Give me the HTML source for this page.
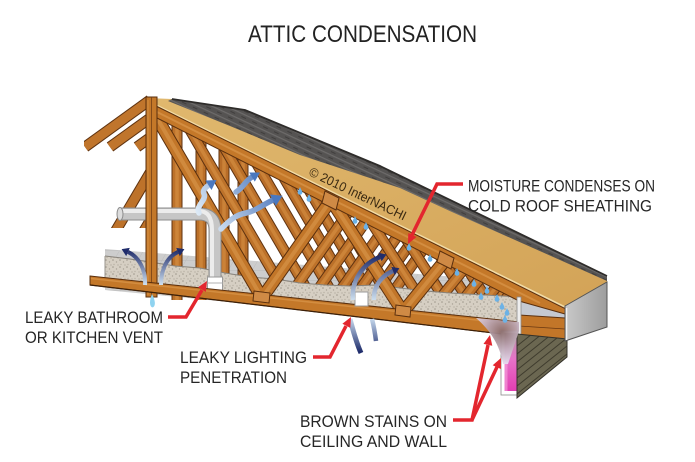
<!DOCTYPE html>
<html><head><meta charset="utf-8"><title>Attic Condensation</title>
<style>
html,body{margin:0;padding:0;background:#fff;width:695px;height:462px;overflow:hidden}
svg{display:block}
.lb{font-family:"Liberation Sans","DejaVu Sans",sans-serif;font-size:17px;fill:#262626}
</style></head><body>
<svg width="695" height="462" viewBox="0 0 695 462" xmlns="http://www.w3.org/2000/svg">
<defs>
<pattern id="ins" width="7" height="7" patternUnits="userSpaceOnUse">
<rect width="7" height="7" fill="#d6cfc3"/>
<circle cx="1" cy="1" r=".8" fill="#9f988c"/>
<circle cx="4.5" cy="3" r=".7" fill="#aaa397"/>
<circle cx="2" cy="5.5" r=".7" fill="#b8b0a3"/>
<circle cx="6" cy="6" r=".5" fill="#8f887d"/>
</pattern>
<pattern id="ceil" width="24" height="10" patternUnits="userSpaceOnUse" patternTransform="skewX(-30)">
<rect width="24" height="10" fill="#cdcdcd"/>
<path d="M0,0H24M0,0V10" stroke="#bcbcbc" stroke-width="1"/>
</pattern>
<pattern id="shg" width="12" height="6" patternUnits="userSpaceOnUse" patternTransform="rotate(25)">
<rect width="12" height="6" fill="#555352"/>
<rect width="12" height="1.2" fill="#6d6b6a"/>
<rect x="4" y="3" width="5" height="1" fill="#403e3d"/>
</pattern>
<linearGradient id="sh" x1="0" y1="0" x2="1" y2="1">
<stop offset="0" stop-color="#e0b86e"/><stop offset="1" stop-color="#d3a357"/>
</linearGradient>
<linearGradient id="pk" x1="0" y1="0" x2="0" y2="1">
<stop offset="0" stop-color="#b49aa4"/><stop offset="0.45" stop-color="#e772c8"/><stop offset="1" stop-color="#e23db2"/>
</linearGradient>
<radialGradient id="stain" cx="502" cy="332" r="32" gradientUnits="userSpaceOnUse">
<stop offset="0" stop-color="#8c6e6e"/><stop offset="0.55" stop-color="#c2aebc"/><stop offset="1" stop-color="#e6dcef"/>
</radialGradient>
<linearGradient id="fas" x1="0" y1="0" x2="1" y2="0">
<stop offset="0" stop-color="#c9c9c9"/><stop offset="1" stop-color="#9d9d9d"/>
</linearGradient>
<linearGradient id="gA1" gradientUnits="userSpaceOnUse" x1="0" y1="286" x2="0" y2="250"><stop offset="0" stop-color="#d4e6f5"/><stop offset="1" stop-color="#1f2c6b"/></linearGradient>
<linearGradient id="gC" gradientUnits="userSpaceOnUse" x1="0" y1="302" x2="0" y2="256"><stop offset="0" stop-color="#d4e6f5"/><stop offset="1" stop-color="#1f2c6b"/></linearGradient>
<linearGradient id="gL" gradientUnits="userSpaceOnUse" x1="0" y1="318" x2="0" y2="352"><stop offset="0" stop-color="#c9dcf0"/><stop offset="1" stop-color="#1f2c6b"/></linearGradient>
<linearGradient id="gB" gradientUnits="userSpaceOnUse" x1="200" y1="230" x2="280" y2="180"><stop offset="0" stop-color="#e8f3fb"/><stop offset="1" stop-color="#4470b8"/></linearGradient>
<g id="webs">
<line x1="157" y1="118" x2="262" y2="298"/>
<line x1="262" y1="298" x2="331" y2="200"/>
<line x1="331" y1="200" x2="403" y2="312"/>
<line x1="403" y1="312" x2="447" y2="258"/>
</g>
<g id="truss"><use href="#webs"/><line x1="151" y1="100" x2="151" y2="300"/></g>
<path id="drop" d="M0,-4 C-1,-1.5 -2.4,0 -2.4,1.4 A2.4,2.4 0 0 0 2.4,1.4 C2.4,0 1,-1.5 0,-4Z"/>
<clipPath id="attic"><polygon points="152,100 519,284 519,340 152,340"/></clipPath>
<clipPath id="lc"><rect x="84" y="90" width="64" height="210"/></clipPath>
<clipPath id="lc2"><rect x="84" y="90" width="64" height="138"/></clipPath>
<clipPath id="sid"><polygon points="517,334 567,339 567,357 517,398"/></clipPath>
</defs>

<text x="248" y="42" font-family="Liberation Sans, DejaVu Sans, sans-serif" font-size="24" fill="#222" textLength="229" lengthAdjust="spacingAndGlyphs">ATTIC CONDENSATION</text>

<polygon points="105,249 519,282 519,330 105,290" fill="url(#ceil)"/>

<g clip-path="url(#attic)" fill="none">
<g transform="translate(127,0)"><use href="#webs" stroke="#5e3210" stroke-width="11"/><use href="#webs" stroke="#b56b27" stroke-width="9"/><use href="#webs" stroke="#c88036" stroke-width="3.5"/></g>
<g transform="translate(110,0)"><use href="#webs" stroke="#5e3210" stroke-width="11"/><use href="#webs" stroke="#b56b27" stroke-width="9"/><use href="#webs" stroke="#c88036" stroke-width="3.5"/></g>
<g transform="translate(92,0)"><use href="#truss" stroke="#5e3210" stroke-width="11"/><use href="#truss" stroke="#b86d28" stroke-width="9"/><use href="#truss" stroke="#ca8238" stroke-width="3.5"/></g>
<g transform="translate(73,0)"><use href="#truss" stroke="#5e3210" stroke-width="11"/><use href="#truss" stroke="#b86d28" stroke-width="9"/><use href="#truss" stroke="#ca8238" stroke-width="3.5"/></g>
<g transform="translate(50,0)"><use href="#truss" stroke="#5e3210" stroke-width="11"/><use href="#truss" stroke="#bb7029" stroke-width="9"/><use href="#truss" stroke="#cc8439" stroke-width="3.5"/></g>
<g transform="translate(26,0)"><use href="#truss" stroke="#5e3210" stroke-width="11"/><use href="#truss" stroke="#bd722a" stroke-width="9"/><use href="#truss" stroke="#cd853a" stroke-width="3.5"/></g>
</g>

<g clip-path="url(#lc)" fill="none">
<g stroke="#5e3210" stroke-width="11">
<line x1="202" y1="100" x2="137" y2="147"/><line x1="175" y1="100" x2="110" y2="147"/><line x1="150" y1="100" x2="85" y2="147"/>
</g>
<g stroke="#c0752c" stroke-width="9">
<line x1="202" y1="100" x2="137" y2="147"/><line x1="175" y1="100" x2="110" y2="147"/><line x1="150" y1="100" x2="85" y2="147"/>
</g>
</g>
<g clip-path="url(#lc2)" fill="none">
<line x1="170" y1="139" x2="115" y2="232" stroke="#5e3210" stroke-width="11"/>
<line x1="170" y1="139" x2="115" y2="232" stroke="#bd722a" stroke-width="9"/>
<line x1="180" y1="170" x2="141" y2="236" stroke="#5e3210" stroke-width="11"/>
<line x1="180" y1="170" x2="141" y2="236" stroke="#bd722a" stroke-width="9"/>
</g>

<polygon points="105,256 130,259 150,262 175,266 200,268 225,273 250,277 275,279 300,283 325,285 350,286 375,285 400,288 425,291 450,293 485,295 519,297 519,323 105,278" fill="url(#ins)"/>
<polyline points="105,256 130,259 150,262 175,266 200,268 225,273 250,277 275,279 300,283 325,285 350,286 375,285 400,288 425,291 450,293 485,295 519,297" fill="none" stroke="#88837b" stroke-width="1"/>
<line x1="105" y1="256" x2="105" y2="278" stroke="#9a958c" stroke-width="1"/>

<g fill="none">
<use href="#webs" stroke="#5a2f0e" stroke-width="13"/>
<use href="#webs" stroke="#c27629" stroke-width="11"/>
<use href="#webs" stroke="#d08a3e" stroke-width="4"/>
</g>

<polygon points="519,285 565,305 565,341 519,336" fill="#c5c9d1"/>
<polygon points="519,315 565,318 565,340 519,336" fill="#c27629" stroke="#5e3210" stroke-width="1"/>
<line x1="519" y1="326" x2="565" y2="329" stroke="#6a3812" stroke-width="0.8"/>

<polygon points="147,98 172,99 245,110 380,166 607,276 607,283 567,308 150,102" fill="url(#sh)"/>
<polygon points="172,99 245,110 380,166 607,276 607,281 560,260 452,212 400,188 300,155 230,126 168,101" fill="url(#shg)"/>
<polyline points="172,99 245,110 380,166 607,276" fill="none" stroke="#2e2c2a" stroke-width="1.8"/>
<line x1="567" y1="308" x2="607" y2="283" stroke="#f5e2b5" stroke-width="1.5"/>
<line x1="150" y1="102" x2="567" y2="308" stroke="#f2dca6" stroke-width="1.6"/>
<text x="0" y="0" transform="translate(308,175) rotate(25.5)" font-family="Liberation Sans, DejaVu Sans, sans-serif" font-size="13" fill="#3b2a12" textLength="106" lengthAdjust="spacingAndGlyphs">© 2010 InterNACHI</text>

<polygon points="150,103 566,309 565,314 519,301 155,117" fill="#c47829" stroke="#5a2f0e" stroke-width="1"/>
<line x1="153" y1="110" x2="540" y2="303" stroke="#d38d40" stroke-width="2"/>

<g fill="none">
<path d="M120,214 H199 Q215,214 215,230 V279" stroke="#8c8c8c" stroke-width="13"/>
<path d="M120,214 H199 Q215,214 215,230 V279" stroke="#c6c6c6" stroke-width="11"/>
<path d="M120,211 H199 Q212,211 212,230 V279" stroke="#ececec" stroke-width="4"/>
</g>
<ellipse cx="120" cy="214" rx="3" ry="6.5" fill="#dcdcdc" stroke="#8c8c8c" stroke-width="1"/>
<rect x="207.5" y="277" width="15" height="14" fill="#fff" stroke="#9a9a9a" stroke-width="1"/>
<line x1="207.5" y1="283" x2="222.5" y2="283" stroke="#b0b0b0" stroke-width="1"/>

<rect x="146" y="97" width="11" height="200" fill="#c47829" stroke="#5a2f0e" stroke-width="1"/>
<line x1="151.5" y1="97" x2="151.5" y2="297" stroke="#744016" stroke-width="0.8"/>
<line x1="148" y1="100" x2="148" y2="295" stroke="#d38d40" stroke-width="1.2"/>

<polygon points="90,276 519,322 519,336 90,285" fill="#c47829" stroke="#5a2f0e" stroke-width="1"/>
<line x1="91" y1="278.5" x2="518" y2="324.5" stroke="#d38d40" stroke-width="1.5"/>
<line x1="90" y1="285" x2="519" y2="336" stroke="#3d2008" stroke-width="1.2"/>

<g fill="#cf8a45" stroke="#5a2f0e" stroke-width="1">
<polygon points="254,291 270,293 269,303 253,301"/>
<polygon points="325,191 339,198 336,210 322,203"/>
<polygon points="396,305 411,307 410,317 395,315"/>
<polygon points="440,251 454,258 451,269 437,262"/>
</g>

<rect x="517" y="297" width="4" height="39" fill="#eeeeee" stroke="#8a8a8a" stroke-width="0.8"/>

<rect x="501" y="331" width="17" height="64" fill="#fff" stroke="#8a8a8a" stroke-width="0.8"/>
<rect x="504.5" y="333" width="12" height="58" fill="url(#pk)"/>
<rect x="504.5" y="345" width="3" height="46" fill="#f39ad8" opacity="0.7"/>

<polygon points="517,334 567,339 567,357 517,398" fill="#6b6751"/>
<g clip-path="url(#sid)" stroke="#3f3c2e" stroke-width="1">
<line x1="517" y1="346" x2="567" y2="306"/><line x1="517" y1="354" x2="567" y2="314"/>
<line x1="517" y1="362" x2="567" y2="322"/><line x1="517" y1="370" x2="567" y2="330"/>
<line x1="517" y1="378" x2="567" y2="338"/><line x1="517" y1="386" x2="567" y2="346"/>
<line x1="517" y1="394" x2="567" y2="354"/>
</g>
<polygon points="517,334 567,339 567,357 517,398" fill="none" stroke="#33312a" stroke-width="1"/>

<polygon points="565,306 607,282 607,327 565,341" fill="url(#fas)" stroke="#555" stroke-width="1"/>
<line x1="566.5" y1="308" x2="566.5" y2="340" stroke="#f2f2f2" stroke-width="1.5"/>

<path d="M476,318 L519,322 L519,331 L508,364 L503,364 C500,345 490,330 476,318Z" fill="url(#stain)" opacity="0.95"/>

<path d="M145,285 C146,270 139,257 128,252" fill="none" stroke="url(#gA1)" stroke-width="4"/>
<polygon points="121.6,249.1 129.8,247.9 126.2,256.1" fill="#1f2c6b"/>
<path d="M161,285 C161,269 167,257 178,252" fill="none" stroke="url(#gA1)" stroke-width="4"/>
<polygon points="184.4,249.1 179.8,256.1 176.2,247.9" fill="#1f2c6b"/>
<path d="M152,294 C150,299 149.5,303 150.5,305.5 C151.5,308 153.5,308 154.5,305.5 C155.5,303 154.5,299 152,294Z" fill="#8fd3f0"/>

<g fill="none" stroke="url(#gB)" stroke-width="5.5" stroke-linecap="round">
<path d="M199,213 C195,206 207,200 204,194 C202,190 206,187 209,185"/>
<path d="M221,229 C231,219 236,215 246,213 C256,211 262,205 273,200"/>
<path d="M236,192 C243,188 245,181 252,177"/>
</g>
<g fill="#4a78bf">
<polygon points="216.5,180 211.5,190 205.5,180.5"/>
<polygon points="282.5,195.8 275.8,206 270,194.5"/>
<polygon points="260,172.5 254.8,181.6 249.2,172.5"/>
</g>

<rect x="355" y="292" width="13" height="14" fill="#fff" stroke="#9a9a9a" stroke-width="1"/>
<g fill="none" stroke-width="4.5">
<path d="M353,300 C351,282 362,264 380,257" stroke="url(#gC)"/>
<path d="M374,300 C373,287 381,276 393,271" stroke="url(#gC)"/>
<path d="M350,319 C353,330 356,342 361,353" stroke="url(#gL)" stroke-width="5"/>
<path d="M372,319 C374,327 375,333 376,341" stroke="url(#gL)"/>
</g>
<polygon points="386.5,254.5 381.6,261.2 378.4,252.8" fill="#1f2c6b"/>
<polygon points="399.4,268.3 394.7,275.1 391.3,266.9" fill="#1f2c6b"/>

<g fill="#6cb2e6">
<use href="#drop" x="300" y="191"/><use href="#drop" x="309" y="198"/>
<use href="#drop" x="355" y="220"/><use href="#drop" x="366" y="226"/>
<use href="#drop" x="409" y="247"/><use href="#drop" x="430" y="258"/>
<use href="#drop" x="457" y="272"/><use href="#drop" x="474" y="283"/>
<use href="#drop" x="487" y="290"/><use href="#drop" x="497" y="298"/>
<use href="#drop" x="502" y="306"/><use href="#drop" x="507" y="312"/>
<use href="#drop" x="505" y="319"/><use href="#drop" x="481" y="296"/>
</g>

<g fill="none" stroke="#e3262e" stroke-width="3.5" stroke-linejoin="miter">
<polyline points="463,184 437,184 412,235"/>
<polyline points="168,317 186,317 202,290"/>
<polyline points="313,357 330,357 346,326"/>
<polyline points="453,420 472,420 488,345"/>
<line x1="472" y1="420" x2="497" y2="367"/>
</g>
<g fill="#e3262e">
<polygon points="408,244 416.4,237 408.3,233"/>
<polygon points="207,281 205.9,291.9 198.1,287.3"/>
<polygon points="351,317 350.3,327.9 342.4,323.8"/>
<polygon points="490,335 492.3,345.7 483.5,343.9"/>
<polygon points="501,358 500.9,369 492.7,365.2"/>
</g>

<text class="lb" x="468" y="191.5" textLength="187" lengthAdjust="spacingAndGlyphs">MOISTURE CONDENSES ON</text>
<text class="lb" x="468" y="211.5" textLength="184" lengthAdjust="spacingAndGlyphs">COLD ROOF SHEATHING</text>
<text class="lb" x="25" y="323" textLength="138" lengthAdjust="spacingAndGlyphs">LEAKY BATHROOM</text>
<text class="lb" x="25" y="343" textLength="138" lengthAdjust="spacingAndGlyphs">OR KITCHEN VENT</text>
<text class="lb" x="180" y="363" textLength="127" lengthAdjust="spacingAndGlyphs">LEAKY LIGHTING</text>
<text class="lb" x="180" y="383" textLength="107" lengthAdjust="spacingAndGlyphs">PENETRATION</text>
<text class="lb" x="300" y="427" textLength="147" lengthAdjust="spacingAndGlyphs">BROWN STAINS ON</text>
<text class="lb" x="300" y="447" textLength="147" lengthAdjust="spacingAndGlyphs">CEILING AND WALL</text>
</svg>
</body></html>
